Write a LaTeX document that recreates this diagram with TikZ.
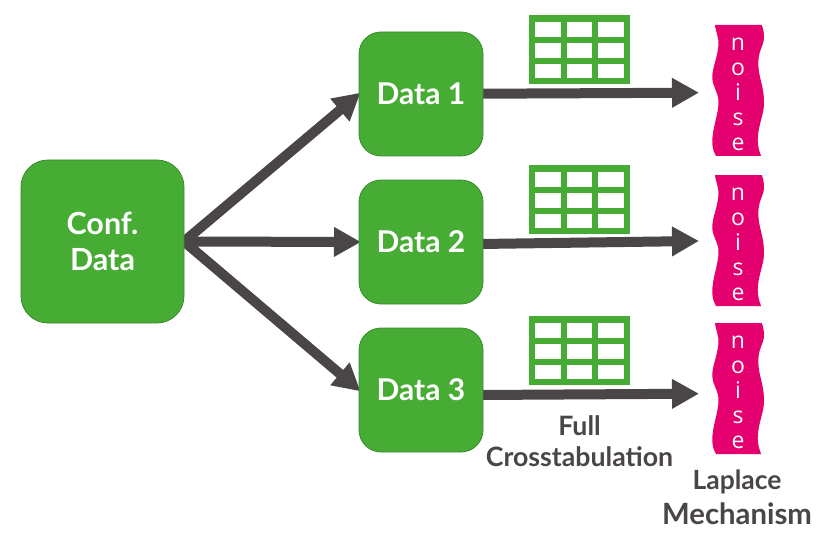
\documentclass[tikz,border=0pt]{standalone}
\usepackage{fontspec}
\setmainfont{Lato}
\newfontfamily\noisefont{Open Sans}
\usetikzlibrary{arrows.meta,backgrounds}
\definecolor{boxgreen}{HTML}{46AC34}
\definecolor{boxedge}{HTML}{3A8A2C}
\definecolor{arrowgrey}{HTML}{4A4546}
\definecolor{noisepink}{HTML}{E5006F}
\tikzset{
  x=1pt,y=-1pt,
  bigbox/.style={draw=boxedge,line width=0.8pt,fill=boxgreen,rounded corners=27pt,minimum width=163pt,minimum height=163pt,outer sep=0pt,text=white,align=center,font=\fontsize{30.5}{36}\selectfont\bfseries,inner sep=0pt},
  databox/.style={draw=boxedge,line width=0.8pt,fill=boxgreen,rounded corners=22pt,minimum width=124pt,minimum height=124pt,outer sep=0pt,text=white,font=\fontsize{30}{34}\selectfont\bfseries,inner sep=0pt},
  conn/.style={draw=arrowgrey,line width=10pt,shorten >=-2pt,-{Triangle[length=27pt,width=28pt]}},
  caption/.style={text=arrowgrey,align=center,inner sep=0pt},
  letters/.style={text=white,align=center,inner sep=0pt,font=\fontsize{23}{25}\selectfont\noisefont},
  noisepic/.pic={
    \fill[noisepink] (715,25) .. controls (716,33) and (719,38) .. (718.5,45)
      .. controls (717,60) and (712,68) .. (712.3,78)
      .. controls (712.5,87) and (718.5,92) .. (718.5,102)
      .. controls (718.5,115) and (712,128) .. (712.3,143)
      .. controls (712.5,149) and (714,152) .. (716,156)
      -- (761,156)
      .. controls (759,150) and (757.7,146) .. (757.7,140)
      .. controls (758,125) and (764,115) .. (764,103)
      .. controls (764,85) and (758.3,78) .. (758.3,63)
      .. controls (758.3,50) and (764,46) .. (764,37)
      .. controls (764,32) and (763,28) .. (761.7,25) -- cycle;
  },
  tablepic/.pic={
    \fill[boxgreen] (529,15) rectangle (630,84);
    \foreach \yy/\yb in {21.7/36.7,43.3/57.7,64/78.3}
      \foreach \xx/\xb in {535/561,567.3/591.7,598/624}
        \fill[white] (\xx,\yy) rectangle (\xb,\yb);
  }
}
\begin{document}
\begin{tikzpicture}
\useasboundingbox (0,0) rectangle (838,559);
\node[bigbox] (conf) at (102.5,241.5) {\raisebox{-0.5pt}{Conf.}\\\raisebox{-0.5pt}{Data}};
\node[databox] (d1) at (421,94) {\raisebox{-1pt}{Data 1}};
\node[databox] (d2) at (421,242) {\raisebox{-1pt}{Data 2}};
\node[databox] (d3) at (421,390) {\raisebox{-1pt}{Data 3}};
\pic at (0,0) {tablepic};
\pic at (0,150) {tablepic};
\pic at (0,301) {tablepic};
\pic at (0,0) {noisepic};
\pic at (0,150) {noisepic};
\pic at (0,298) {noisepic};
\node[letters] (n1) at (738,94.5) {n\\o\\i\\s\\e};
\node[letters] (n2) at (738,244.5) {n\\o\\i\\s\\e};
\node[letters] (n3) at (738,392.5) {n\\o\\i\\s\\e};
\coordinate (t1) at (697,92.7);
\coordinate (t2) at (697,241);
\coordinate (t3) at (697,393.7);
\coordinate (s3) at (480,395);
\coordinate (s2) at (480,244);
\begin{scope}[on background layer]
\draw[conn] (conf.east) -- (d1.west);
\draw[conn] (conf.east) -- (d2.west);
\draw[conn] (conf.east) -- (d3.west);
\draw[conn] (d1.center) -- (t1);
\draw[conn] (s2) -- (t2);
\draw[conn] (s3) -- (t3);
\end{scope}
\node[caption,font=\fontsize{26.7}{31}\selectfont\bfseries] (full) at (579.5,441.5) {Full\\Crosstabulation};
\node[caption,font=\fontsize{26.5}{34}\selectfont\bfseries] (lap) at (737,482) {Laplace};
\node[caption,font=\fontsize{29.3}{34}\selectfont\bfseries] (mech) at (737,514) {Mechanism};
\end{tikzpicture}
\end{document}
